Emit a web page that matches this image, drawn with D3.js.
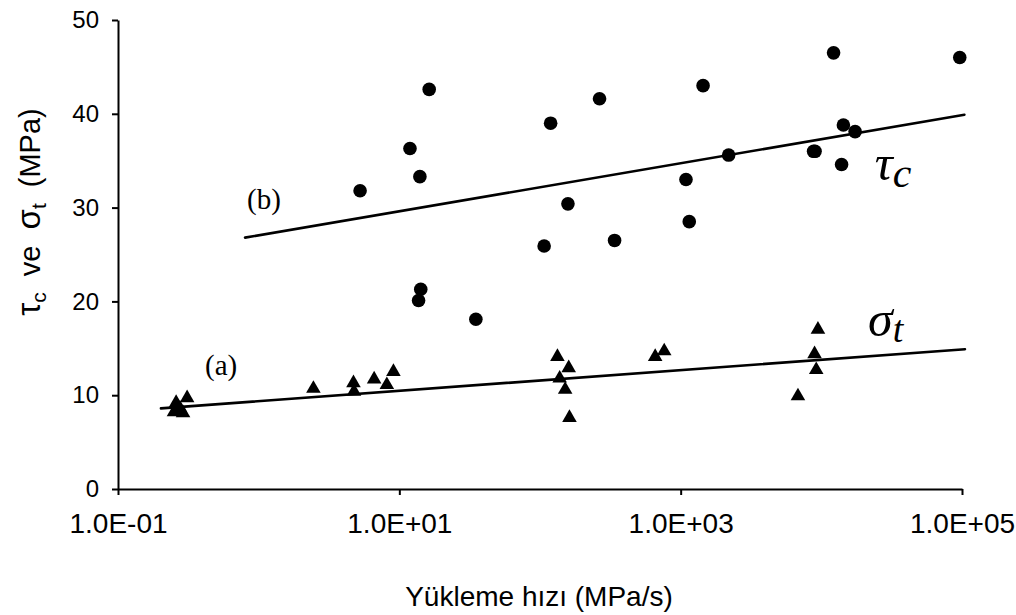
<!DOCTYPE html>
<html>
<head>
<meta charset="utf-8">
<script src="https://cdn.jsdelivr.net/npm/d3@7"></script>
<style>
  body { margin: 0; background: #fff; }
  svg { display: block; }
</style>
</head>
<body>
<svg id="chart"></svg>
<script>
// tau_c (circles): loading rate (MPa/s) and strength (MPa)
const tauRate = [5.26, 11.9, 14.0, 16.3, 14.2, 13.7, 35.0, 107, 119, 158, 265, 339, 1091, 1151, 1443, 2193, 8810, 12220, 14350, 17380, 9020, 13930, 96400]
const tauVal  = [31.8, 36.3, 33.3, 42.6, 21.3, 20.1, 18.1, 25.9, 39.0, 30.4, 41.6, 26.5, 33.0, 28.5, 43.0, 35.6, 36.0, 46.5, 38.8, 38.1, 36.0, 34.6, 46.0]

// sigma_t (triangles)
const sigRate = [0.25, 0.259, 0.276, 0.29, 0.31, 2.45, 4.72, 4.76, 6.62, 8.15, 9.08, 133, 138, 151, 160, 162, 659, 764, 6820, 8950, 9200, 9460]
const sigVal  = [8.2, 9.2, 8.6, 8.1, 9.7, 10.7, 11.3, 10.4, 11.7, 11.1, 12.5, 14.1, 11.8, 10.6, 12.9, 7.6, 14.1, 14.7, 9.9, 14.4, 12.7, 17.0]

// trend lines, end points
const fitARate = [0.202, 1.05e5]
const fitAVal  = [8.6, 14.9]
const fitBRate = [0.80, 1.04e5]
const fitBVal  = [26.8, 39.9]

const xTicks = [0.1, 10, 1000, 1e5]
const xTickLabels = ["1.0E-01", "1.0E+01", "1.0E+03", "1.0E+05"]
const yTicks = [0, 10, 20, 30, 40, 50]

const width = 1016, height = 615
const margin = { top: 20, right: 54, bottom: 126, left: 118 }

const x = d3.scaleLog()
  .domain([0.1, 1e5])
  .range([margin.left, width - margin.right])

const y = d3.scaleLinear()
  .domain([0, 50])
  .range([height - margin.bottom, margin.top])

const svg = d3.select("#chart")
  .attr("width", width)
  .attr("height", height)
  .attr("viewBox", [0, 0, width, height])
  .style("font-family", "'Liberation Sans', Arial, sans-serif")

const xAxis = g => g
  .attr("transform", `translate(0,${height - margin.bottom})`)
  .call(d3.axisBottom(x)
    .tickValues(xTicks)
    .tickFormat((d, i) => xTickLabels[i])
    .tickSize(6)
    .tickSizeOuter(0)
    .tickPadding(18))
  .call(g => g.selectAll("path, line").attr("stroke", "#000").attr("stroke-width", 2))
  .call(g => g.selectAll("text").attr("fill", "#000").style("font-size", "28px"))

const yAxis = g => g
  .attr("transform", `translate(${margin.left},0)`)
  .call(d3.axisLeft(y)
    .tickValues(yTicks)
    .tickSize(6)
    .tickSizeOuter(0)
    .tickPadding(13))
  .call(g => g.selectAll("path, line").attr("stroke", "#000").attr("stroke-width", 2))
  .call(g => g.selectAll("text").attr("fill", "#000").style("font-size", "24px"))

svg.append("g").call(xAxis)
svg.append("g").call(yAxis)

// trend lines
const line = d3.line()
  .x(d => x(d[0]))
  .y(d => y(d[1]))

svg.append("path")
  .attr("fill", "none")
  .attr("stroke", "#000")
  .attr("stroke-width", 2.6)
  .attr("stroke-linecap", "round")
  .attr("d", line(d3.zip(fitARate, fitAVal)))

svg.append("path")
  .attr("fill", "none")
  .attr("stroke", "#000")
  .attr("stroke-width", 2.6)
  .attr("stroke-linecap", "round")
  .attr("d", line(d3.zip(fitBRate, fitBVal)))

// circles
svg.append("g")
  .selectAll("circle")
  .data(d3.zip(tauRate, tauVal))
  .join("circle")
    .attr("cx", d => x(d[0]))
    .attr("cy", d => y(d[1]))
    .attr("r", 6.8)
    .attr("fill", "#000")

// triangles
svg.append("g")
  .selectAll("path")
  .data(d3.zip(sigRate, sigVal))
  .join("path")
    .attr("transform", d => `translate(${x(d[0])},${y(d[1])})`)
    .attr("d", d3.symbol(d3.symbolTriangle, 92))
    .attr("fill", "#000")

// annotations
const serif = "'Liberation Serif', 'Times New Roman', serif"

svg.append("text")
  .attr("x", x(0.416))
  .attr("y", y(12.15))
  .style("font-family", serif)
  .style("font-size", "29px")
  .text("(a)")

svg.append("text")
  .attr("x", x(0.827))
  .attr("y", y(29.85))
  .style("font-family", serif)
  .style("font-size", "29px")
  .text("(b)")

const tauLabel = svg.append("text")
  .attr("x", x(24000))
  .attr("y", y(32.9))
  .style("font-family", serif)
  .style("font-style", "italic")
  .style("font-size", "50px")
tauLabel.append("tspan").text("τ")
tauLabel.append("tspan").attr("dy", 7).style("font-size", "42px").text("c")

const sigLabel = svg.append("text")
  .attr("x", x(21500))
  .attr("y", y(16.3))
  .style("font-family", serif)
  .style("font-style", "italic")
  .style("font-size", "50px")
sigLabel.append("tspan").text("σ")
sigLabel.append("tspan").attr("dy", 6).style("font-size", "38px").text("t")

// axis titles
svg.append("text")
  .attr("x", 539)
  .attr("y", 606)
  .attr("text-anchor", "middle")
  .style("font-size", "28px")
  .text("Yükleme hızı (MPa/s)")

const yTitle = svg.append("text")
  .attr("transform", "translate(40,212) rotate(-90)")
  .attr("text-anchor", "middle")
  .style("font-size", "29px")
  .style("word-spacing", "8px")
yTitle.append("tspan").style("font-size", "33px").text("τ")
yTitle.append("tspan").attr("dy", 6).style("font-size", "21px").text("c")
yTitle.append("tspan").attr("dy", -6).text(" ve ")
yTitle.append("tspan").style("font-size", "33px").text("σ")
yTitle.append("tspan").attr("dy", 6).style("font-size", "21px").text("t")
yTitle.append("tspan").attr("dy", -6).text(" (MPa)")
</script>
</body>
</html>
